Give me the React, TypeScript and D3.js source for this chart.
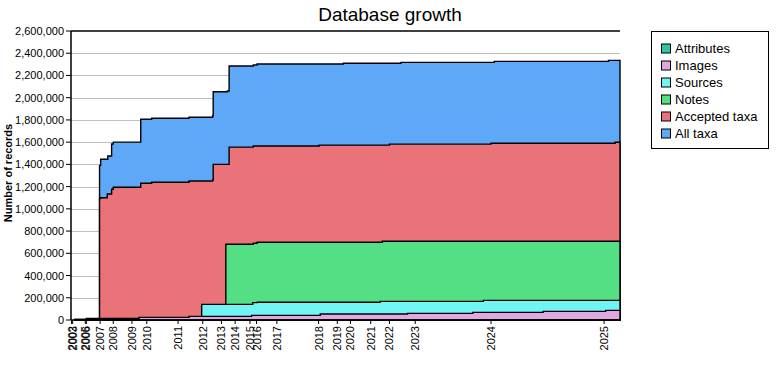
import React from "react";
import * as d3 from "d3";

// Step data: [release position, number of records]
const allTaxa: [number, number][] = [
  [0.7, 4000], [5.2, 1390000], [5.4, 1446000], [6.7, 1475000], [7.4, 1583000], [7.7, 1600000],
  [12.7, 1806000], [14.7, 1815000], [21.5, 1824000], [25.8, 1838000], [25.9, 2054000],
  [28.5, 2060000], [28.8, 2285000], [33.2, 2294000], [33.9, 2303000], [49.6, 2310000],
  [60.1, 2318000], [77.1, 2327000], [97.9, 2336000],
];
const acceptedTaxa: [number, number][] = [
  [0.7, 4000], [5.2, 1094000], [5.4, 1100000], [6.6, 1134000], [7.4, 1176000], [7.7, 1194000],
  [12.7, 1230000], [14.7, 1239000], [21.5, 1250000], [25.8, 1260000], [25.9, 1400000],
  [28.8, 1555000], [33.2, 1565000], [45.2, 1573000], [58.0, 1582000], [76.5, 1590000],
  [99.1, 1599000],
];
const notes: [number, number][] = [
  [28.2, 681000], [33.2, 690000], [33.9, 699000], [56.7, 708000],
];
const sources: [number, number][] = [
  [23.8, 141000], [33.1, 156000], [33.9, 160000], [56.3, 168000], [75.1, 177000],
];
const images: [number, number][] = [
  [2.8, 13000], [12.4, 24000], [21.5, 33000], [32.9, 42000], [45.4, 54000],
  [61.3, 60000], [73.2, 69000], [86.0, 78000], [97.4, 87000],
];
const attributes: [number, number][] = [[76.5, 0]];

const xTickPos = [0.1, 0.3, 2.6, 2.8, 5.3, 7.7, 11.1, 13.8, 19.5, 24.0, 27.4, 29.9, 32.6, 33.8, 37.5, 45.1, 48.5, 50.9, 54.6, 58.0, 62.7, 76.5, 97.1];
const xTickLabels = ["2002", "2003", "2005", "2006", "2007", "2008", "2009", "2010", "2011", "2012", "2013", "2014", "2015", "2016", "2017", "2018", "2019", "2020", "2021", "2022", "2023", "2024", "2025"];
const yTicks = [0, 200000, 400000, 600000, 800000, 1000000, 1200000, 1400000, 1600000, 1800000, 2000000, 2200000, 2400000, 2600000];

const seriesNames = ["Attributes", "Images", "Sources", "Notes", "Accepted taxa", "All taxa"];
const seriesColors = ["#2ec4a6", "#e0a8e0", "#70f4f4", "#54df84", "#ea737a", "#5fa8f8"];
const seriesData = [attributes, images, sources, notes, acceptedTaxa, allTaxa];

const FONT = "Arial, 'Liberation Sans', sans-serif";

export default function App() {
  const left = 71, right = 620, top = 31, bottom = 320;
  const x = d3.scaleLinear().domain([0, 100]).range([left, right]);
  const y = d3.scaleLinear().domain([0, 2600000]).range([bottom, top]);
  const area = d3
    .area<[number, number]>()
    .x((d) => x(d[0]))
    .y0(y(0))
    .y1((d) => y(d[1]))
    .curve(d3.curveStepAfter);
  const fmt = d3.format(",");

  const drawOrder = [5, 4, 3, 2, 1, 0];

  return (
    <svg width={780} height={380} style={{ position: "absolute", left: 0, top: 0, background: "#fff" }} fontFamily={FONT}>
      <text x={390} y={21} textAnchor="middle" fontSize={19}>Database growth</text>
      {/* gridlines */}
      {yTicks.slice(1, -1).map((t) => (
        <line key={t} x1={left} x2={right} y1={Math.round(y(t)) + 0.5} y2={Math.round(y(t)) + 0.5} stroke="#c0c0c0" strokeWidth={1} />
      ))}
      {/* areas */}
      {drawOrder.map((i) => {
        const pts = seriesData[i];
        const data: [number, number][] = [...pts, [100, pts[pts.length - 1][1]]];
        return (
          <path key={i} d={area(data) || ""} fill={seriesColors[i]} stroke="#000" strokeWidth={1.4} strokeLinejoin="miter" />
        );
      })}
      {/* axes */}
      <line x1={left} x2={left} y1={top} y2={bottom} stroke="#000" strokeWidth={1.5} />
      <line x1={left} x2={right} y1={top} y2={top} stroke="#000" strokeWidth={1.5} />
      <line x1={left} x2={right} y1={bottom} y2={bottom} stroke="#000" strokeWidth={1.5} />
      {yTicks.map((t) => (
        <g key={t}>
          <line x1={left - 5} x2={left} y1={y(t)} y2={y(t)} stroke="#000" strokeWidth={1} />
          <text x={64} y={y(t) + 4} textAnchor="end" fontSize={11}>{fmt(t)}</text>
        </g>
      ))}
      {xTickPos.map((p, i) => (
        <g key={i}>
          <line x1={x(p)} x2={x(p)} y1={bottom} y2={bottom + 4} stroke="#000" strokeWidth={1} />
          <text transform={`translate(${x(p) + 4},${bottom + 6}) rotate(-90)`} textAnchor="end" fontSize={11}>
            {xTickLabels[i]}
          </text>
        </g>
      ))}
      <text transform={`translate(12,173) rotate(-90)`} textAnchor="middle" fontSize={11} fontWeight="bold">
        Number of records
      </text>
      {/* legend */}
      <rect x={651.5} y={31.5} width={117} height={117} fill="#fff" stroke="#000" strokeWidth={1} />
      {seriesNames.map((n, i) => (
        <g key={n} transform={`translate(0,${48.5 + i * 17})`}>
          <rect x={661.5} y={-4.5} width={9} height={9} fill={seriesColors[i]} stroke="#000" strokeWidth={1} />
          <text x={675} y={4.5} fontSize={13}>{n}</text>
        </g>
      ))}
    </svg>
  );
}
